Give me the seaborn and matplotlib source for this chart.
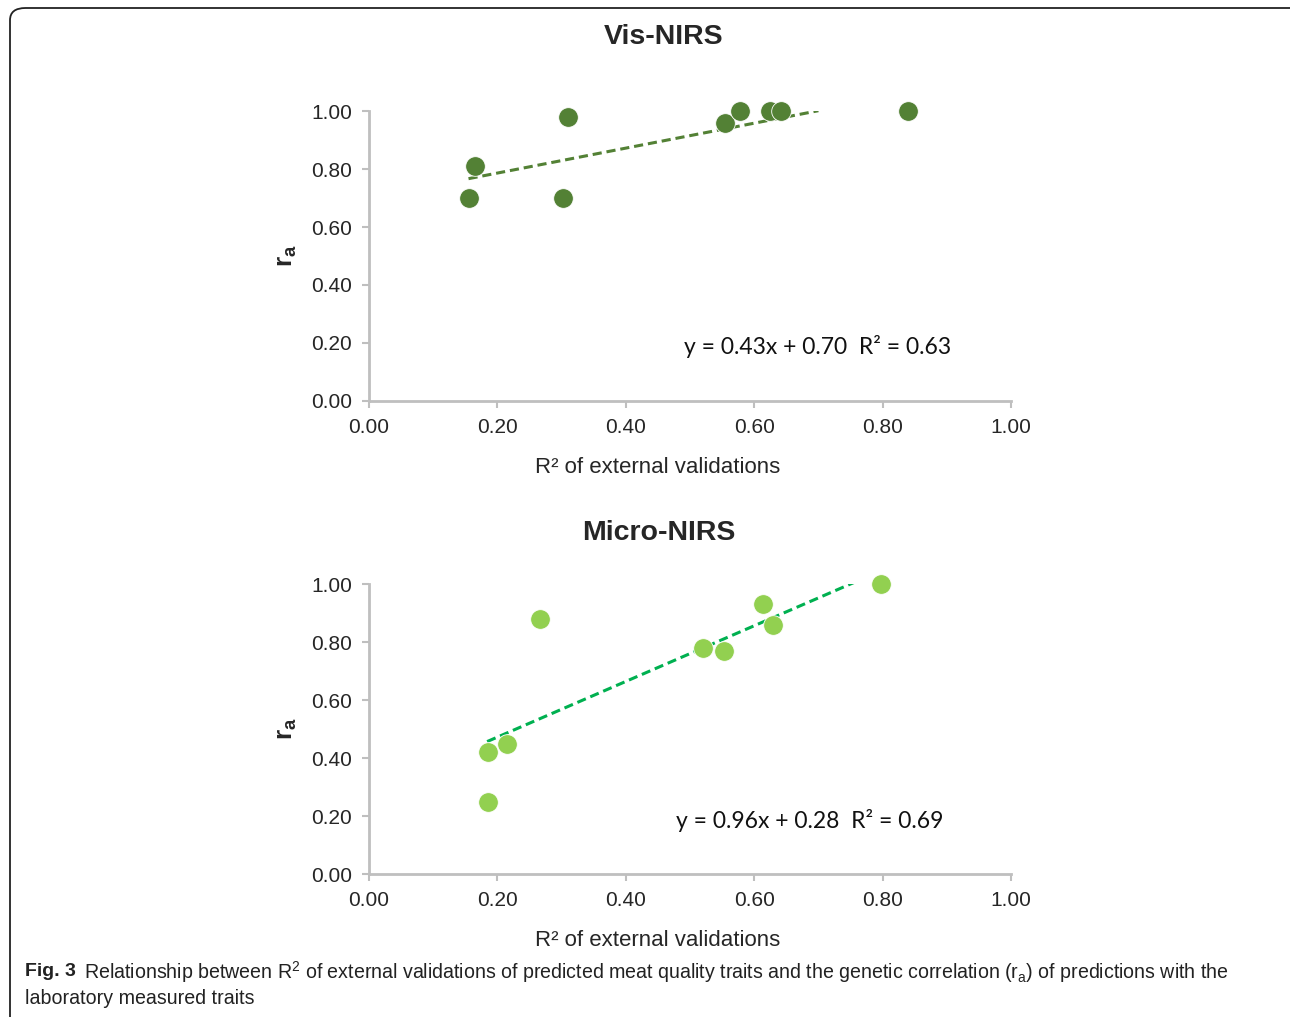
import matplotlib
matplotlib.use("Agg")
import matplotlib.pyplot as plt
import seaborn as sns
import pandas as pd
from matplotlib.patches import FancyBboxPatch

# data
vis_r2 = [0.155, 0.165, 0.31, 0.302, 0.555, 0.578, 0.625, 0.642, 0.84]
vis_ra = [0.70, 0.81, 0.98, 0.70, 0.96, 1.00, 1.00, 1.00, 1.00]
vis_slope, vis_intercept = 0.43, 0.70
vis_trend_x = [0.155, 0.70]

micro_r2 = [0.185, 0.215, 0.185, 0.266, 0.52, 0.553, 0.614, 0.629, 0.797]
micro_ra = [0.42, 0.45, 0.25, 0.88, 0.78, 0.77, 0.93, 0.86, 1.00]
micro_slope, micro_intercept = 0.96, 0.28
micro_trend_x = [0.184, 0.755]

ticks = [0.0, 0.2, 0.4, 0.6, 0.8, 1.0]
tick_labels = ["0.00", "0.20", "0.40", "0.60", "0.80", "1.00"]

sns.set_style("white")
plt.rcParams["font.family"] = ["Liberation Sans", "DejaVu Sans"]
plt.rcParams["mathtext.fontset"] = "custom"
plt.rcParams["mathtext.rm"] = "Liberation Sans"
plt.rcParams["mathtext.bf"] = "Liberation Sans:bold"

W, H = 1290, 1017
fig = plt.figure(figsize=(12.9, 10.17), dpi=100)

# rounded frame around the panel
frame = FancyBboxPatch((10 / W, -0.05), 1.2, 1.05 - 8 / H,
                       boxstyle="round,pad=0,rounding_size=0.012",
                       transform=fig.transFigure, fill=False,
                       edgecolor="#222222", linewidth=1.3)
fig.patches.append(frame)


def panel(ax, xs, ys, slope, intercept, trend_x, dot_color, line_color, eq, eq_xy):
    df = pd.DataFrame({"r2": xs, "ra": ys})
    sns.scatterplot(data=df, x="r2", y="ra", ax=ax, s=200, color=dot_color,
                    edgecolor="white", linewidth=0.6, zorder=3)
    trend = pd.DataFrame({"x": trend_x, "y": [slope * v + intercept for v in trend_x]})
    sns.lineplot(data=trend, x="x", y="y", ax=ax, color=line_color,
                 linestyle=(0, (3, 1.6)), linewidth=2.2, zorder=2)
    ax.set_xlim(0, 1)
    ax.set_ylim(0, 1)
    ax.set_xticks(ticks)
    ax.set_xticklabels(tick_labels)
    ax.set_yticks(ticks)
    ax.set_yticklabels(tick_labels)
    ax.tick_params(axis="both", labelsize=15, length=5, width=1.5,
                   color="#bfbfbf", direction="out", pad=7, bottom=True, left=True)
    for side in ["top", "right"]:
        ax.spines[side].set_visible(False)
    for side in ["left", "bottom"]:
        ax.spines[side].set_color("#bfbfbf")
        ax.spines[side].set_linewidth(2)
    for c in ax.collections:
        c.set_clip_on(False)
    ax.set_xlabel("")
    ax.set_ylabel(r"$\mathbf{r_{a}}$", fontsize=19, labelpad=9)
    ax.text(eq_xy[0], eq_xy[1], eq, transform=ax.transAxes, fontsize=16.5,
            family=["Lato", "DejaVu Sans"], va="center", ha="left", color="#111111")


ax1 = fig.add_axes([369 / W, 1 - 401 / H, 642 / W, 290 / H])
panel(ax1, vis_r2, vis_ra, vis_slope, vis_intercept, vis_trend_x,
      "#538135", "#538135",
      "y = 0.43x + 0.70  R² = 0.63", ((684 - 369) / 642, (401 - 347) / 290))

ax2 = fig.add_axes([369 / W, 1 - 874 / H, 642 / W, 290 / H])
panel(ax2, micro_r2, micro_ra, micro_slope, micro_intercept, micro_trend_x,
      "#92D050", "#00B050",
      "y = 0.96x + 0.28  R² = 0.69", ((676 - 369) / 642, (874 - 820) / 290))

# titles and x labels placed where they sit in the original figure
fig.text(664 / W, 1 - 37 / H, "Vis-NIRS", fontsize=20.5, fontweight="bold",
         ha="center", va="center")
fig.text(659 / W, 1 - 533 / H, "Micro-NIRS", fontsize=20.5, fontweight="bold",
         ha="center", va="center")
fig.text(658 / W, 1 - 467 / H, "R² of external validations", fontsize=16,
         ha="center", va="center")
fig.text(658 / W, 1 - 940 / H, "R² of external validations", fontsize=16,
         ha="center", va="center")

cap_font = ["Liberation Sans", "DejaVu Sans"]
fig.text(25 / W, 1 - 972 / H, "Fig. 3", fontsize=14, fontweight="bold",
         family=cap_font, va="center", ha="left", color="#222222")
fig.text(84 / W, 1 - 972 / H,
         "Relationship between R$^{2}$ of external validations of predicted meat quality traits "
         "and the genetic correlation (r$_{\\mathrm{a}}$) of predictions with the",
         fontsize=14.1, family=cap_font, va="center", ha="left", color="#222222")
fig.text(25 / W, 1 - 998 / H, "laboratory measured traits",
         fontsize=14.1, family=cap_font, va="center", ha="left", color="#222222")

fig.savefig("out.png", dpi=100)
